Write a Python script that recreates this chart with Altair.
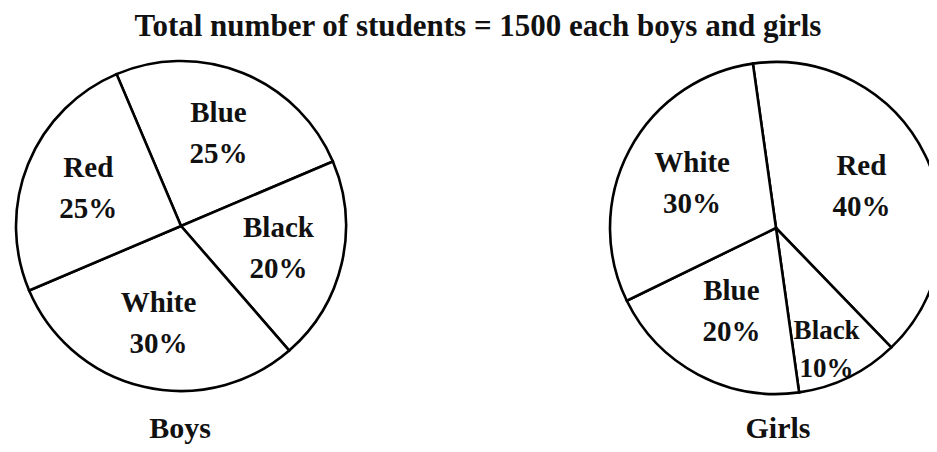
import math
import altair as alt
import pandas as pd

title_text = "Total number of students = 1500 each boys and girls"

boys_colours = ["Blue", "Black", "White", "Red"]
boys_pct = [25, 20, 30, 25]

girls_colours = ["Red", "Black", "Blue", "White"]
girls_pct = [40, 10, 20, 30]

group_names = ["Boys", "Girls"]

FONT = "Liberation Serif"


def make_df(cats, pcts):
    return pd.DataFrame({
        "colour": cats,
        "pct": pcts,
        "ord": list(range(len(cats))),
        "label": [f"{c}\n{p}%" for c, p in zip(cats, pcts)],
    })


def text_style(size, lh):
    return dict(font=FONT, fontWeight="bold", fontSize=size, lineBreak="\n",
                lineHeight=lh, dy=-lh / 2, color="#111",
                align="center", baseline="middle")


def pie(df, cx, cy, r, start_deg, label_r, far_colour=None, far_r=None, far_dx=0):
    s = math.radians(start_deg)
    base = alt.Chart(df).encode(
        theta=alt.Theta("pct:Q", stack=True,
                        scale=alt.Scale(domain=[0, 100], range=[s, s + 2 * math.pi])),
        order=alt.Order("ord:Q"),
    )
    arcs = base.mark_arc(outerRadius=r, fill="white", stroke="black",
                         strokeWidth=2.6).encode(x=alt.value(cx), y=alt.value(cy))
    layers = [arcs]
    if far_colour is None:
        layers.append(base.mark_text(radius=label_r, **text_style(29, 41)).encode(
            text="label:N", x=alt.value(cx), y=alt.value(cy)))
    else:
        layers.append(base.mark_text(radius=label_r, **text_style(29, 41)).encode(
            text="label:N", x=alt.value(cx), y=alt.value(cy),
            opacity=alt.condition(alt.datum.colour == far_colour, alt.value(0), alt.value(1))))
        layers.append(base.mark_text(radius=far_r, dx=far_dx, **text_style(27, 38)).encode(
            text="label:N", x=alt.value(cx), y=alt.value(cy),
            opacity=alt.condition(alt.datum.colour == far_colour, alt.value(1), alt.value(0))))
    return alt.layer(*layers)


boys = pie(make_df(boys_colours, boys_pct), 173, 218, 165, -23, 100)
girls = pie(make_df(girls_colours, girls_pct), 768, 220, 166, -8, 95, "Black", 136, -9)

title = alt.Chart(pd.DataFrame({"t": [title_text]})).mark_text(
    font=FONT, fontWeight="bold", fontSize=31, color="#111", baseline="alphabetic").encode(
    text="t:N", x=alt.value(470), y=alt.value(28))

names = alt.Chart(pd.DataFrame({"n": group_names})).mark_text(
    font=FONT, fontWeight="bold", fontSize=30, color="#111", baseline="alphabetic")
boys_name = names.transform_filter(alt.datum.n == "Boys").encode(
    text="n:N", x=alt.value(172), y=alt.value(430))
girls_name = names.transform_filter(alt.datum.n == "Girls").encode(
    text="n:N", x=alt.value(770), y=alt.value(430))

chart = alt.layer(boys, girls, title, boys_name, girls_name).resolve_scale(
    theta="independent"
).properties(
    width=921, height=436, autosize=alt.AutoSizeParams(type="none"), padding=0
).configure_view(stroke=None)

chart.save("out.html", embed_options={"renderer": "svg", "actions": False})
